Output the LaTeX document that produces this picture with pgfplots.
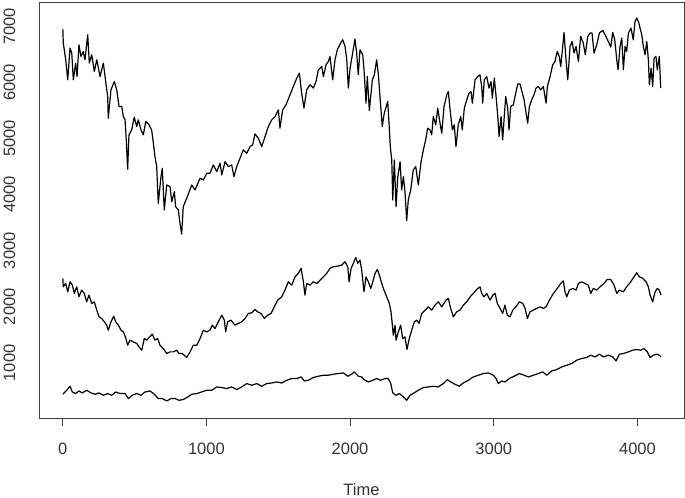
\documentclass[border=0pt]{standalone}
\usepackage{fontspec}
\setmainfont{Liberation Sans}
\usepackage{pgfplots}
\pgfplotsset{compat=1.18}

% three series (time index, value)
\pgfplotstableread{
t v
1 6950
4 6703
21 6404
35 6047
51 6613
63 6524
74 6047
90 6346
100 6106
113 6673
127 6463
143 6553
155 6404
174 6851
185 6346
202 6494
220 6196
237 6404
260 6106
283 6346
299 6017
313 5749
317 5363
336 5869
359 6017
376 5869
392 5571
411 5571
422 5392
434 5333
443 4945
452 4452
461 5065
480 5154
498 5381
515 5213
526 5333
545 5154
561 5065
578 5303
601 5244
619 5154
631 4917
642 4678
654 4499
665 3845
684 4320
693 4470
707 3726
724 4172
747 4142
759 3874
777 4052
786 3785
805 3726
816 3488
828 3297
839 3785
863 3934
898 4172
921 4083
956 4292
979 4261
1002 4381
1025 4381
1048 4529
1072 4410
1095 4560
1107 4351
1130 4588
1153 4499
1176 4529
1192 4320
1211 4499
1234 4649
1257 4797
1281 4738
1304 4856
1322 4886
1338 5083
1361 5006
1385 4856
1408 5035
1431 5213
1455 5333
1478 5392
1501 5511
1512 5185
1531 5511
1554 5601
1577 5749
1605 5928
1629 6078
1647 6167
1663 5810
1679 5542
1698 5869
1721 5958
1744 5899
1763 6017
1779 6226
1803 6285
1814 6106
1833 6315
1849 6374
1860 6463
1879 6047
1895 6404
1911 6583
1935 6703
1949 6762
1965 6642
1977 6404
1988 5899
2000 6256
2018 6524
2034 6774
2046 6524
2057 6137
2069 6583
2088 6494
2097 6226
2111 5631
2120 6106
2134 5500
2155 6047
2169 6137
2185 6404
2197 6137
2208 5749
2224 5213
2238 5453
2262 5660
2271 5274
2280 4856
2290 4619
2297 3904
2308 4619
2320 3785
2332 4320
2348 4588
2359 4083
2371 4320
2382 4052
2394 3535
2405 3904
2422 4083
2440 4440
2457 4499
2475 4172
2494 4588
2510 4797
2526 4976
2540 5185
2556 5154
2568 5065
2579 5392
2596 5244
2610 5542
2626 5274
2638 5095
2654 5571
2673 5779
2684 5838
2696 5511
2712 5154
2725 5244
2737 4856
2753 5244
2770 5392
2781 5154
2795 5542
2812 5690
2828 5810
2842 5838
2851 5631
2870 6047
2888 6106
2904 6137
2916 5928
2923 5631
2934 6047
2951 6106
2967 5899
2981 6017
2990 5720
3004 6078
3016 5749
3028 5392
3037 5035
3051 5392
3062 4976
3073 5392
3083 5749
3097 5542
3106 5154
3118 5571
3136 5601
3148 5749
3167 5976
3183 5970
3195 5850
3211 5690
3225 5453
3236 5274
3248 5571
3264 5690
3280 5779
3294 5899
3310 5928
3327 5869
3345 5928
3364 5631
3373 5928
3392 6106
3410 6315
3426 6374
3442 6553
3456 6463
3466 6285
3480 6642
3489 6892
3503 6404
3515 6047
3531 6642
3545 6731
3559 6524
3573 6642
3589 6374
3605 6821
3623 6703
3637 6494
3654 6821
3670 6881
3684 6881
3698 6524
3717 6673
3735 6881
3758 6928
3781 6821
3797 6731
3814 6631
3828 6892
3842 6762
3856 6404
3865 6226
3879 6642
3891 6792
3902 6226
3914 6642
3925 6553
3937 6881
3955 6971
3971 6762
3983 7089
3995 7150
4009 7071
4018 6971
4030 6851
4041 6642
4053 6494
4065 6731
4076 6404
4083 5958
4095 6256
4106 5928
4116 6435
4129 6463
4138 6226
4152 6463
4162 5899
}\seriesA

\pgfplotstableread{
t v
1 2506
4 2356
21 2416
35 2266
51 2445
67 2386
81 2238
97 2356
113 2177
132 2297
150 2238
167 2088
183 2207
202 2059
220 2088
237 1940
253 1820
271 1791
290 1731
306 1672
317 1582
336 1731
355 1832
369 1731
387 1672
406 1582
422 1552
438 1452
452 1314
468 1404
491 1373
515 1345
531 1284
550 1225
568 1434
585 1404
601 1452
624 1511
642 1404
661 1434
677 1314
700 1255
724 1166
747 1195
770 1195
793 1225
809 1166
832 1166
863 1095
886 1195
909 1314
933 1314
956 1434
979 1582
1002 1552
1025 1582
1041 1672
1060 1613
1083 1731
1107 1850
1125 1761
1134 1552
1148 1731
1171 1761
1199 1672
1222 1702
1246 1731
1269 1791
1292 1881
1315 1891
1338 1952
1357 1909
1380 1881
1403 1791
1427 1850
1450 1881
1473 1999
1496 2118
1524 2177
1547 2297
1570 2445
1594 2386
1617 2534
1640 2595
1659 2684
1675 2445
1686 2207
1698 2416
1721 2386
1744 2445
1768 2416
1791 2475
1814 2534
1837 2595
1860 2684
1883 2713
1914 2725
1942 2743
1965 2802
1984 2713
1993 2445
2007 2684
2023 2774
2039 2881
2053 2774
2069 2833
2081 2654
2097 2266
2111 2534
2127 2445
2144 2327
2158 2445
2174 2595
2190 2666
2204 2565
2220 2416
2236 2297
2255 2177
2273 2059
2285 1909
2292 1731
2301 1493
2313 1672
2320 1404
2336 1552
2352 1672
2366 1434
2382 1463
2396 1238
2412 1434
2429 1582
2447 1731
2464 1761
2480 1702
2499 1881
2522 1940
2545 1999
2568 1940
2591 2029
2614 2088
2638 1999
2668 2118
2684 2149
2700 1970
2719 1820
2742 1909
2765 1940
2788 2029
2812 2088
2835 2177
2858 2238
2881 2309
2904 2356
2916 2238
2932 2177
2951 2238
2974 2118
2993 2207
3009 2238
3025 2059
3044 1970
3062 1881
3078 2029
3094 1850
3113 1820
3132 1940
3155 1999
3178 2088
3202 2059
3218 1970
3234 1791
3252 1909
3275 1940
3299 1970
3322 1999
3345 1970
3364 1999
3387 2118
3415 2238
3442 2327
3466 2416
3484 2463
3496 2266
3508 2177
3526 2297
3550 2327
3573 2297
3589 2416
3612 2445
3635 2416
3658 2386
3675 2238
3693 2327
3717 2297
3740 2356
3767 2416
3790 2487
3814 2487
3837 2386
3856 2238
3874 2297
3902 2266
3925 2356
3953 2445
3976 2534
3995 2606
4013 2534
4037 2506
4060 2445
4076 2356
4088 2207
4106 2088
4123 2266
4138 2327
4152 2297
4164 2207
}\seriesB

\pgfplotstableread{
t v
1 439
28 511
51 582
67 480
90 452
113 498
136 463
167 511
197 463
225 439
253 463
283 421
313 452
341 421
369 480
399 452
434 452
457 363
484 421
515 452
545 421
573 480
608 498
638 439
665 363
693 363
724 320
754 363
782 363
809 332
839 345
870 391
898 439
933 452
967 480
1002 511
1037 511
1072 570
1107 559
1141 541
1176 570
1211 523
1246 570
1281 630
1315 600
1350 630
1385 582
1420 630
1455 641
1489 659
1524 641
1559 689
1594 720
1629 720
1659 748
1682 677
1709 689
1744 738
1779 761
1814 779
1849 779
1883 797
1918 809
1953 820
1984 761
2011 797
2030 838
2057 761
2081 748
2097 702
2127 659
2158 689
2185 720
2213 689
2243 720
2266 720
2283 630
2297 463
2320 421
2343 452
2366 404
2394 332
2417 421
2445 463
2475 511
2510 559
2545 570
2579 582
2614 570
2649 630
2677 702
2700 659
2730 618
2760 582
2788 641
2823 689
2858 748
2893 779
2927 809
2962 820
2997 779
3016 720
3032 630
3055 677
3078 659
3108 720
3141 761
3178 809
3211 779
3241 748
3275 779
3310 809
3341 838
3369 779
3403 856
3438 880
3473 927
3508 957
3543 988
3577 1047
3612 1077
3647 1095
3675 1136
3705 1106
3735 1154
3763 1106
3797 1136
3828 1106
3851 1034
3874 1154
3902 1166
3937 1195
3967 1225
3995 1238
4023 1225
4046 1255
4069 1195
4088 1095
4110 1136
4134 1154
4152 1136
4164 1106
}\seriesC

\begin{document}
\fontsize{16.5bp}{20bp}\selectfont
\begin{tikzpicture}
\begin{axis}[
    name=ax,
    width=645bp, height=416bp,
    scale only axis,
    xmin=-165, xmax=4324,
    ymin=16, ymax=7435,
    xtick={0,1000,2000,3000,4000},
    ytick={1000,2000,3000,4000,5000,6000,7000},
    xtick pos=lower, ytick pos=left,
    tick align=outside,
    major tick length=8bp,
    ytick style={draw=none},
    xtick style={black!75, line width=0.8bp},
    axis line style={black!75, line width=0.8bp},
    scaled ticks=false,
    /pgf/number format/1000 sep={},
    /pgf/number format/assume math mode=true,
    ticklabel style={text=black!80},
    xticklabel style={anchor=center, yshift=-23bp},
    yticklabel style={rotate=90, anchor=center, yshift=21.5bp},
    xlabel={Time},
    xlabel style={at={(axis description cs:0.5,0)}, anchor=center, yshift=-72bp, text=black!80},
  ]
  \addplot[black, line width=1.2bp, line join=round] table[x=t, y=v] {\seriesA};
  \addplot[black, line width=1.2bp, line join=round] table[x=t, y=v] {\seriesB};
  \addplot[black, line width=1.2bp, line join=round] table[x=t, y=v] {\seriesC};
\end{axis}
\pgfresetboundingbox
\path[use as bounding box] ([xshift=-39bp,yshift=-80bp]ax.south west) rectangle ([xshift=1bp,yshift=2bp]ax.north east);
\end{tikzpicture}
\end{document}
